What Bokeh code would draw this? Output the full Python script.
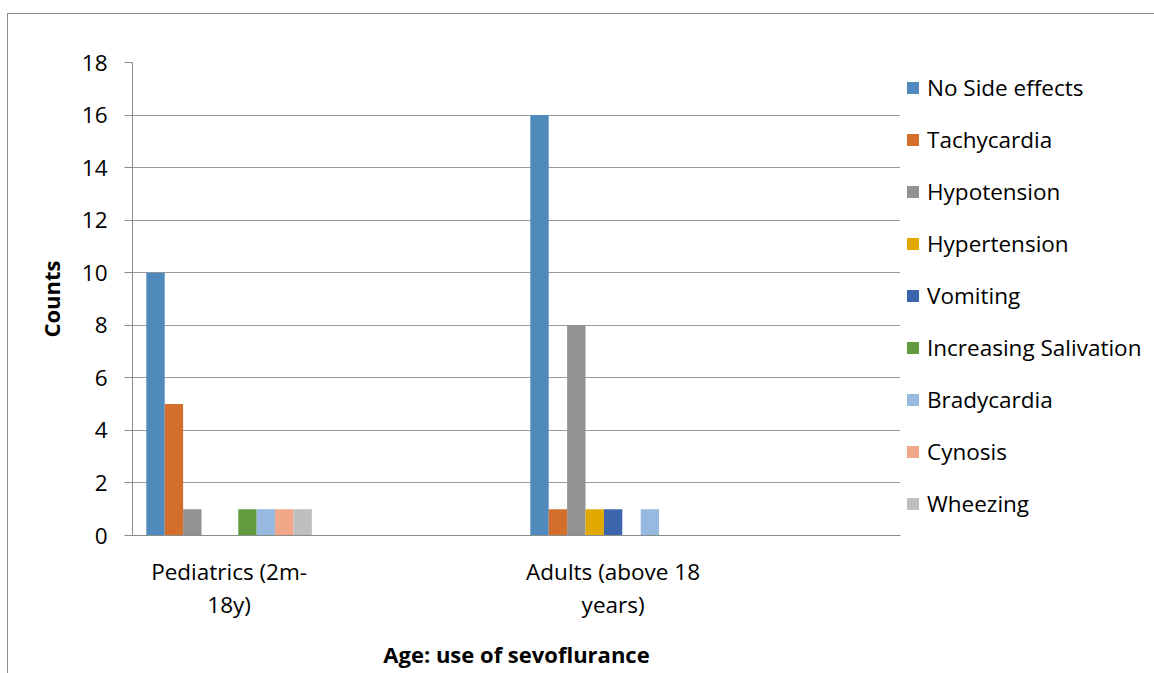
from bokeh.plotting import figure
from bokeh.models import (ColumnDataSource, Legend, LegendItem, Range1d,
                          FixedTicker)
from bokeh.embed import file_html
from bokeh.resources import INLINE

# ---------------- data ----------------
categories = ["Pediatrics (2m-\n18y)", "Adults (above 18\nyears)"]
series = ["No Side effects", "Tachycardia", "Hypotension", "Hypertension",
          "Vomiting", "Increasing Salivation", "Bradycardia", "Cynosis",
          "Wheezing"]
pediatrics = [10, 5, 1, 0, 0, 1, 1, 1, 1]
adults = [16, 1, 8, 1, 1, 0, 1, 0, 0]
y_ticks = [0, 2, 4, 6, 8, 10, 12, 14, 16, 18]
y_title = "Counts"
x_title = "Age: use of sevoflurance"

# ---------------- style ----------------
colors = ["#508ABD", "#D36F2B", "#929292", "#E1A900", "#3D65AD",
          "#629A3F", "#98B9DF", "#F0A889", "#BEBEBE"]
FONT = "Open Sans"
FS = "22.5px"
BAR_W = 0.0479        # width of one bar in category-band units
GROUP_LEFT = 0.036    # gap before first bar in each band
center_shift = GROUP_LEFT + BAR_W * len(series) / 2
GRID = "#9A9A9A"
AXIS = "#8C8C8C"

p = figure(frame_width=768, frame_height=473,
           x_range=Range1d(-center_shift, len(categories) - center_shift),
           y_range=Range1d(0, 18),
           output_backend="svg", toolbar_location=None,
           min_border_left=124, min_border_top=48, min_border_bottom=138,
           min_border_right=254)
p.outline_line_color = None
p.background_fill_color = "white"
p.border_fill_color = "white"
# outer chart-area border (top and left edges visible in the reference)
p.styles = {"margin-top": "13px", "margin-left": "7px",
            "border-top": "1px solid #8C8C8C",
            "border-left": "1px solid #8C8C8C"}

values = [pediatrics, adults]
items = []
for i, name in enumerate(series):
    xs = [c + (i - (len(series) - 1) / 2) * BAR_W for c in range(len(categories))]
    tops = [values[c][i] for c in range(len(categories))]
    src = ColumnDataSource(dict(x=xs, top=tops))
    r = p.vbar(x="x", top="top", bottom=0, width=BAR_W, source=src,
               fill_color=colors[i], line_color=None)
    items.append(LegendItem(label=name, renderers=[r]))

legend = Legend(items=items, location="top_left")
legend.margin = 5
legend.padding = 0
legend.spacing = 11
legend.glyph_width = 15
legend.glyph_height = 15
legend.label_height = 41
legend.label_standoff = 7
legend.label_text_font = FONT
legend.label_text_font_size = FS
legend.label_text_color = "black"
legend.border_line_color = None
legend.background_fill_alpha = 0
p.add_layout(legend, "right")

# y axis
p.yaxis.ticker = FixedTicker(ticks=y_ticks)
p.yaxis.axis_label = y_title
p.yaxis.axis_label_text_font = FONT
p.yaxis.axis_label_text_font_style = "bold"
p.yaxis.axis_label_text_font_size = "22px"
p.yaxis.axis_label_text_color = "black"
p.yaxis.axis_label_standoff = 13
p.yaxis.major_label_text_font = FONT
p.yaxis.major_label_text_font_size = FS
p.yaxis.major_label_text_color = "black"
p.yaxis.major_label_standoff = 17
p.yaxis.axis_line_color = AXIS
p.yaxis.major_tick_line_color = AXIS
p.yaxis.major_tick_out = 8
p.yaxis.major_tick_in = 0
p.yaxis.minor_tick_line_color = None

# x axis
p.xaxis.ticker = FixedTicker(ticks=list(range(len(categories))))
p.xaxis.major_label_overrides = {i: c for i, c in enumerate(categories)}
p.xaxis.axis_label = x_title
p.xaxis.axis_label_text_font = FONT
p.xaxis.axis_label_text_font_style = "bold"
p.xaxis.axis_label_text_font_size = "22px"
p.xaxis.axis_label_text_color = "black"
p.xaxis.axis_label_standoff = 16
p.xaxis.major_label_text_font = FONT
p.xaxis.major_label_text_font_size = FS
p.xaxis.major_label_text_color = "black"
p.xaxis.major_label_text_line_height = 1.07
p.xaxis.major_label_standoff = 14
p.xaxis.axis_line_color = AXIS
p.xaxis.major_tick_line_color = None
p.xaxis.minor_tick_line_color = None

p.xgrid.grid_line_color = None
p.ygrid.grid_line_color = GRID
p.ygrid.grid_line_width = 1

open("out.html", "w").write(file_html(p, INLINE))
